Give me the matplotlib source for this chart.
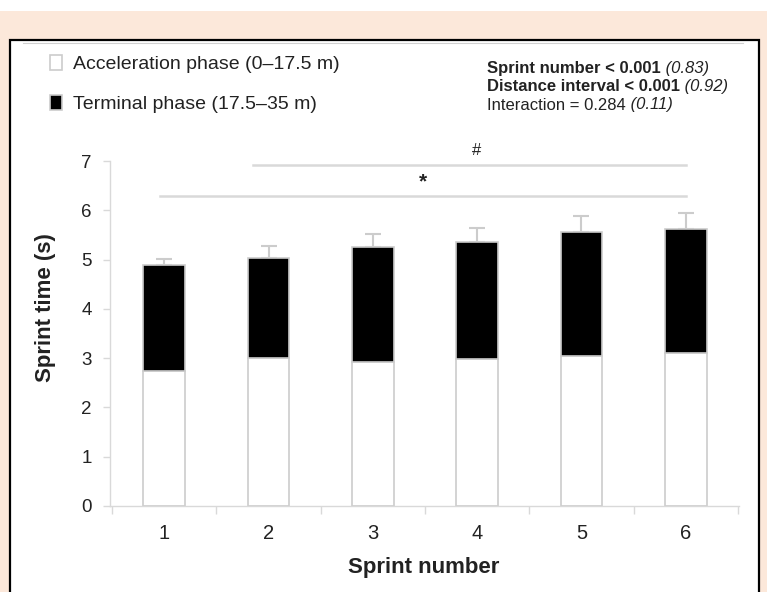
import matplotlib
matplotlib.use("Agg")
import matplotlib.pyplot as plt
from matplotlib.patches import Rectangle
from matplotlib.lines import Line2D
import numpy as np

plt.rcParams['font.family'] = ['Liberation Sans', 'DejaVu Sans']

# ---- data ----
sprints = [1, 2, 3, 4, 5, 6]
accel_phase = [2.74, 3.00, 2.93, 2.98, 3.05, 3.11]      # 0-17.5 m
terminal_phase = [2.14, 2.04, 2.32, 2.38, 2.50, 2.52]   # 17.5-35 m
total_sd = [0.13, 0.24, 0.26, 0.28, 0.33, 0.31]
legend_labels = ["Acceleration phase (0\u201317.5 m)", "Terminal phase (17.5\u201335 m)"]
sig_symbols = ["#", "*"]
sig_spans = [(1.85, 6.0), (0.96, 6.0)]
sig_levels = [6.92, 6.29]
stats_bold = ["Sprint number < 0.001", "Distance interval < 0.001", None]
stats_plain = [None, None, "Interaction = 0.284"]
stats_eff = [" (0.83)", " (0.92)", " (0.11)"]

W, H = 767, 592
PEACH = '#fce8da'
GREY = '#d9d9d9'
EDGE = '#cccccc'
TXT = '#222222'

fig = plt.figure(figsize=(W / 100, H / 100), dpi=100, facecolor=PEACH)

# white strip at the very top and white panel with black border
fig.patches.append(Rectangle((0, 1 - 11 / H), 1, 11 / H, transform=fig.transFigure,
                             facecolor='white', edgecolor='none', zorder=-2))
fig.patches.append(Rectangle((10 / W, -0.05), (759 - 10) / W, (H - 40) / H + 0.05,
                             transform=fig.transFigure, facecolor='white',
                             edgecolor='black', linewidth=1.6, zorder=-2))
fig.lines.append(Line2D([23 / W, 743 / W], [1 - 42.5 / H, 1 - 42.5 / H],
                        transform=fig.transFigure, color='#d0d0d0', lw=0.8, zorder=-1))

ax = fig.add_axes([110 / W, 86 / H, 629 / W, 345 / H])
ax.set_facecolor('none')

x = np.array(sprints, dtype=float)
acc = np.array(accel_phase)
term = np.array(terminal_phase)
total = acc + term

b1 = ax.bar(x, acc, width=0.4, color='white', edgecolor=EDGE, linewidth=1.2,
            label=legend_labels[0], zorder=2)
b2 = ax.bar(x, term, width=0.4, bottom=acc, color='black', edgecolor=EDGE,
            linewidth=1.2, label=legend_labels[1], zorder=2)
ax.errorbar(x, total, yerr=[np.zeros_like(total), total_sd], fmt='none',
            ecolor=EDGE, elinewidth=1.5, capsize=6, capthick=1.5, zorder=1)

ax.set_xlim(0.48, 6.51)
ax.set_ylim(0, 7)
for s in ['top', 'right']:
    ax.spines[s].set_visible(False)
for s in ['left', 'bottom']:
    ax.spines[s].set_color(GREY)
    ax.spines[s].set_linewidth(1.0)

ax.set_xticks(x)
ax.set_xticklabels([str(s) for s in sprints])
ax.set_xticks(np.arange(0.5, 6.6, 1.0), minor=True)
ax.tick_params(axis='x', which='major', length=0, pad=13, labelsize=14.5, labelcolor=TXT)
ax.tick_params(axis='x', which='minor', length=6, width=1, color=GREY, direction='out')
ax.set_yticks(range(0, 8))
ax.tick_params(axis='y', which='major', length=5, width=1, color=GREY, pad=8,
               labelsize=13.5, labelcolor=TXT)

ax.set_xlabel('Sprint number', fontsize=16, fontweight='bold', color=TXT)
ax.xaxis.label.set_va('center')
ax.xaxis.set_label_coords((424 - 110) / 629, (506 - 567) / 345)
ax.set_ylabel('Sprint time (s)', fontsize=16, fontweight='bold', color=TXT)
ax.yaxis.label.set_va('center')
ax.yaxis.set_label_coords((46 - 110) / 629, (506 - 308) / 345)

# significance lines
for sym, (x0, x1), lvl in zip(sig_symbols, sig_spans, sig_levels):
    ax.plot([x0, x1], [lvl, lvl], color=GREY, lw=1.8, clip_on=False, zorder=1)
ax.text(3.99, 7.22, sig_symbols[0], ha='center', va='center', fontsize=12, color=TXT,
        clip_on=False)
ax.text(3.48, 6.58, sig_symbols[1], ha='center', va='center', fontsize=15,
        fontweight='bold', color=TXT, clip_on=False)

# legend
leg = fig.legend(handles=[b1, b2], labels=legend_labels, loc='upper left',
                 bbox_to_anchor=(50 / W, 1 - 55 / H), frameon=False, fontsize=14,
                 handlelength=0.6, handleheight=0.8, handletextpad=0.6,
                 labelspacing=1.12, borderpad=0, borderaxespad=0)
for t in leg.get_texts():
    t.set_color(TXT)

# statistics text block
ys = [68, 86.5, 105]
for yb, bold, plain, eff in zip(ys, stats_bold, stats_plain, stats_eff):
    if bold is not None:
        t = fig.text(487 / W, 1 - yb / H, bold, fontsize=12, fontweight='bold',
                     va='center', ha='left', color=TXT)
    else:
        t = fig.text(487 / W, 1 - yb / H, plain, fontsize=12, va='center', ha='left',
                     color=TXT)
    fig.add_artist(matplotlib.text.Annotation(eff, xy=(1, 0.5), xycoords=t, va='center',
                                              ha='left', fontsize=12, fontstyle='italic',
                                              color=TXT))

fig.savefig('out.png', dpi=100, facecolor=PEACH)
